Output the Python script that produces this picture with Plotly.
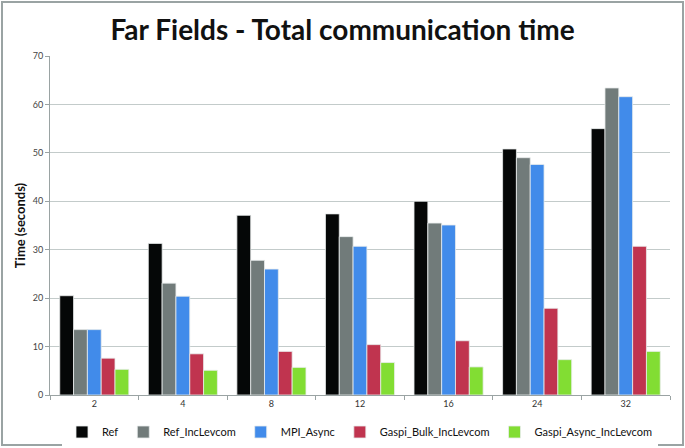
import plotly.graph_objects as go

categories = ["2", "4", "8", "12", "16", "24", "32"]
ref = [20.5, 31.3, 37.1, 37.4, 40.0, 50.8, 55.0]
ref_inc = [13.5, 23.1, 27.8, 32.7, 35.5, 49.0, 63.4]
mpi_async = [13.5, 20.4, 26.0, 30.7, 35.1, 47.6, 61.6]
gaspi_bulk = [7.6, 8.5, 9.0, 10.4, 11.2, 17.9, 30.7]
gaspi_async = [5.3, 5.1, 5.7, 6.7, 5.8, 7.3, 9.0]

series = [
    ("Ref", ref, "#050707"),
    ("Ref_IncLevcom", ref_inc, "#717b7a"),
    ("MPI_Async", mpi_async, "#418bea"),
    ("Gaspi_Bulk_IncLevcom", gaspi_bulk, "#c0344f"),
    ("Gaspi_Async_IncLevcom", gaspi_async, "#82dd33"),
]

W, H = 685, 448
L, R, T, B = 50, 15, 56, 53

fig = go.Figure()
for name, vals, col in series:
    fig.add_trace(go.Bar(x=categories, y=vals, name=name,
                         marker=dict(color=col, line=dict(color="#e8ecec", width=0.8))))

pw, ph = W - L - R, H - T - B
def px(x): return (x - L) / pw
def py(y): return (H - B - y) / ph

fig.add_shape(type="rect", xref="paper", yref="paper",
              x0=px(2), x1=px(683), y0=py(445), y1=py(2),
              line=dict(color="#9aa3a3", width=2), layer="below")

fig.update_layout(
    width=W, height=H,
    margin=dict(l=L, r=R, t=T, b=B, autoexpand=False),
    paper_bgcolor="white", plot_bgcolor="white",
    barmode="group", bargap=0.22, bargroupgap=0,
    font=dict(family="Lato, Open Sans, sans-serif", color="#333"),
    title=dict(text="<b>Far Fields - Total communication time</b>",
               x=0.5, xanchor="center", y=1 - 30 / H, yanchor="middle",
               font=dict(size=28, color="#111")),
    showlegend=True,
    legend=dict(orientation="h", x=0.5, xanchor="center", y=py(432), yref="paper",
                yanchor="middle", font=dict(size=11, color="#111"),
                itemwidth=30, tracegroupgap=0, traceorder="normal"),
    xaxis=dict(type="category", showgrid=False, showline=True, linecolor="#9aa3a3",
               ticks="outside", tickson="boundaries", ticklen=4, tickcolor="#9aa3a3",
               tickfont=dict(size=9, color="#333")),
    yaxis=dict(range=[0, 70], dtick=10, showgrid=True, gridcolor="#c3cbca", gridwidth=1,
               showline=True, linecolor="#9aa3a3", ticks="outside", ticklen=4,
               tickcolor="#9aa3a3", tickfont=dict(size=9, color="#444"),
               title=dict(text="<b>Time (seconds)</b>", font=dict(size=13, color="#111"),
                          standoff=4)),
)
fig.write_html("out.html", config={"displayModeBar": False},
               post_script="document.body.style.margin='0';")
